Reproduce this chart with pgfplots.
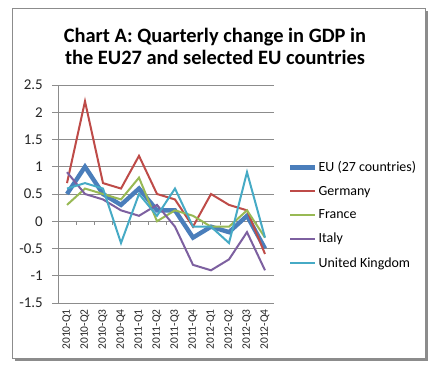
\documentclass[border=0pt]{standalone}
\usepackage{fontspec}
\setmainfont{Carlito}
\usepackage{pgfplots}
\pgfplotsset{compat=1.18}
\definecolor{cEU}{HTML}{4A7EBB}
\definecolor{cDE}{HTML}{BE4B48}
\definecolor{cFR}{HTML}{98B954}
\definecolor{cIT}{HTML}{7D60A0}
\definecolor{cUK}{HTML}{46AAC5}
\definecolor{gridc}{HTML}{8C8C8C}
\begin{document}
\begin{tikzpicture}
\useasboundingbox (-58bp,-68bp) rectangle (377bp,303bp);
\fill[black!45] (-43bp,-58bp) rectangle (370bp,292bp);
\filldraw[fill=white, draw=black!45, line width=0.8bp] (-46bp,-55bp) rectangle (367bp,295bp);
\node[align=center, font=\bfseries\fontsize{20.5}{22}\selectfont] at (157bp,257bp) {Chart A: Quarterly change in GDP in\\the EU27 and selected EU countries};
\begin{axis}[
  at={(0,0)}, anchor=south west,
  scale only axis, width=216bp, height=218bp,
  xmin=-0.5, xmax=11.5, ymin=-1.5, ymax=2.5,
  xtick={0,...,11},
  xticklabels={2010-Q1,2010-Q2,2010-Q3,2010-Q4,2011-Q1,2011-Q2,2011-Q3,2011-Q4,2012-Q1,2012-Q2,2012-Q3,2012-Q4},
  x tick label style={rotate=90, anchor=east, font=\fontsize{11.5}{13}\selectfont, text=black!85, inner sep=6bp},
  ytick={-1.5,-1,...,2.5},
  yticklabel style={font=\fontsize{15}{17}\selectfont, text=black!85, inner xsep=0pt, anchor=east, xshift=-15bp},
  /pgf/number format/assume math mode=true,
  ymajorgrids, grid style={gridc, line width=0.6bp},
  axis line style={draw=none},
  tick style={draw=none},
  major tick length=0pt,
  clip=false,
  legend style={draw=none, fill=none, at={(1.065,0.65)}, anchor=north west,
    font=\fontsize{14}{16}\selectfont, row sep=13bp, inner sep=0pt,
    nodes={inner xsep=1bp, inner ysep=0pt, anchor=west}},
  legend cell align=left,
  legend image code/.code={\draw[#1] (0bp,0bp) -- (25bp,0bp);},
]
\draw[gridc, line width=0.8bp] (rel axis cs:0,0) -- (rel axis cs:0,1);
\draw[gridc, line width=0.8bp] (axis cs:-0.5,0) -- (axis cs:11.5,0);
\pgfplotsinvokeforeach{-1.5,-1,-0.5,0,0.5,1,1.5,2,2.5}{\draw[gridc, line width=0.6bp] (axis cs:-0.5,#1) -- ([xshift=-6bp]axis cs:-0.5,#1);}
\pgfplotsinvokeforeach{0.5,1.5,2.5,3.5,4.5,5.5,6.5,7.5,8.5,9.5,10.5}{\draw[gridc, line width=0.6bp] (axis cs:#1,0) -- ([yshift=-4bp]axis cs:#1,0);}
\addplot[cEU, line width=4.4bp] coordinates {(0,0.5)(1,1.0)(2,0.5)(3,0.3)(4,0.6)(5,0.2)(6,0.2)(7,-0.3)(8,-0.1)(9,-0.2)(10,0.1)(11,-0.5)};
\addlegendentry{EU (27 countries)}
\addplot[cDE, line width=2bp] coordinates {(0,0.7)(1,2.2)(2,0.7)(3,0.6)(4,1.2)(5,0.5)(6,0.4)(7,-0.1)(8,0.5)(9,0.3)(10,0.2)(11,-0.6)};
\addlegendentry{Germany}
\addplot[cFR, line width=2bp] coordinates {(0,0.3)(1,0.6)(2,0.5)(3,0.4)(4,0.8)(5,0.0)(6,0.2)(7,0.1)(8,-0.1)(9,-0.1)(10,0.2)(11,-0.3)};
\addlegendentry{France}
\addplot[cIT, line width=2bp] coordinates {(0,0.9)(1,0.5)(2,0.4)(3,0.2)(4,0.1)(5,0.3)(6,-0.1)(7,-0.8)(8,-0.9)(9,-0.7)(10,-0.2)(11,-0.9)};
\addlegendentry{Italy}
\addplot[cUK, line width=2bp] coordinates {(0,0.6)(1,0.7)(2,0.6)(3,-0.4)(4,0.5)(5,0.1)(6,0.6)(7,-0.1)(8,-0.1)(9,-0.4)(10,0.9)(11,-0.3)};
\addlegendentry{United Kingdom}
\end{axis}
\end{tikzpicture}
\end{document}
